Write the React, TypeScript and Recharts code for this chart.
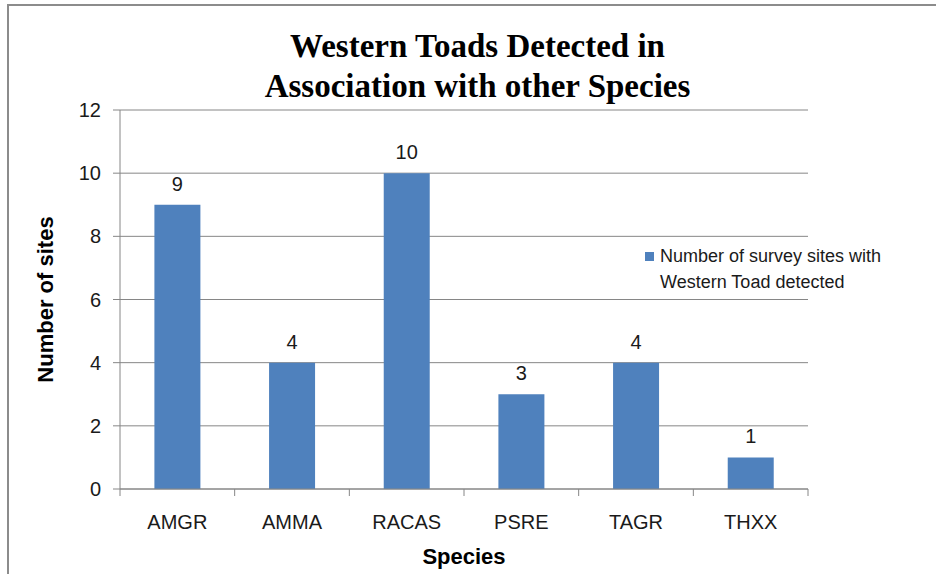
import { Bar, BarChart, CartesianGrid, LabelList, XAxis, YAxis } from 'recharts';

const species = ['AMGR', 'AMMA', 'RACAS', 'PSRE', 'TAGR', 'THXX'];
const sites = [9, 4, 10, 3, 4, 1];
const yTicks = [0, 2, 4, 6, 8, 10, 12];
const seriesName = 'Number of survey sites with Western Toad detected';

const data = species.map((name, i) => ({ name, sites: sites[i] }));

const W = 936;
const H = 574;
const margin = { top: 110, right: 128, bottom: 5, left: 60 };
const plotLeft = 120;
const bandWidth = (W - margin.right - plotLeft) / species.length;

const tickFont = '"Liberation Sans Narrow", "Liberation Sans", Arial, sans-serif';

function XTick(props: any) {
  const { x, y, payload, index } = props;
  const half = bandWidth / 2;
  return (
    <g>
      <line x1={x - half} y1={y - 8} x2={x - half} y2={y - 1} stroke="#868686" />
      {index === species.length - 1 && (
        <line x1={x + half} y1={y - 8} x2={x + half} y2={y - 1} stroke="#868686" />
      )}
      <text x={x} y={y + 32} textAnchor="middle" fontSize={20} fill="#1a1a1a" fontFamily={tickFont}>
        {payload.value}
      </text>
    </g>
  );
}

function LegendBox() {
  return (
    <div
      style={{
        position: 'absolute',
        left: 645,
        top: 243,
        display: 'flex',
        fontFamily: 'Arial, "Liberation Sans", sans-serif',
        fontSize: 18,
        color: '#1a1a1a',
        lineHeight: '26px',
      }}
    >
      <div style={{ width: 9, height: 9, background: '#4F81BD', marginTop: 9, marginRight: 6 }} />
      <div>
        Number of survey sites with
        <br />
        Western Toad detected
      </div>
    </div>
  );
}

export default function App() {
  return (
    <div style={{ position: 'fixed', left: 0, top: 0, width: W, height: H, background: '#fff', overflow: 'hidden' }}>
      <div
        style={{
          position: 'absolute',
          left: 7,
          top: 4,
          width: W + 20,
          height: H + 20,
          border: '2px solid #8c8c8c',
          boxSizing: 'border-box',
        }}
      />
      <div
        style={{
          position: 'absolute',
          left: 0,
          top: 26,
          width: 955,
          textAlign: 'center',
          fontFamily: '"Liberation Serif", "Times New Roman", serif',
          fontWeight: 'bold',
          fontSize: 33,
          lineHeight: '40px',
          color: '#000',
        }}
      >
        Western Toads Detected in
        <br />
        Association with other Species
      </div>
      <div style={{ position: 'absolute', left: 0, top: 0 }}>
        <BarChart width={W} height={H} data={data} margin={margin} barCategoryGap="30%">
          <CartesianGrid vertical={false} stroke="#868686" strokeWidth={1} />
          <XAxis
            dataKey="name"
            height={80}
            stroke="#868686"
            tickLine={false}
            tick={<XTick />}
            interval={0}
            label={{
              value: 'Species',
              position: 'insideBottom',
              offset: 5,
              style: { fontFamily: 'Arial, "Liberation Sans", sans-serif', fontWeight: 'bold', fontSize: 22, fill: '#000' },
            }}
          />
          <YAxis
            width={60}
            domain={[0, 12]}
            ticks={yTicks}
            stroke="#868686"
            tickSize={7}
            tickMargin={12}
            tick={{ fontSize: 20, fill: '#1a1a1a', fontFamily: tickFont }}
            label={{
              value: 'Number of sites',
              angle: -90,
              position: 'center',
              dx: -45,
              style: { fontFamily: 'Arial, "Liberation Sans", sans-serif', fontWeight: 'bold', fontSize: 22, fill: '#000', textAnchor: 'middle' },
            }}
          />
          <Bar dataKey="sites" name={seriesName} fill="#4F81BD" isAnimationActive={false}>
            <LabelList
              dataKey="sites"
              position="top"
              offset={14}
              style={{ fontSize: 20, fill: '#1a1a1a', fontFamily: tickFont }}
            />
          </Bar>
        </BarChart>
      </div>
      <LegendBox />
    </div>
  );
}
